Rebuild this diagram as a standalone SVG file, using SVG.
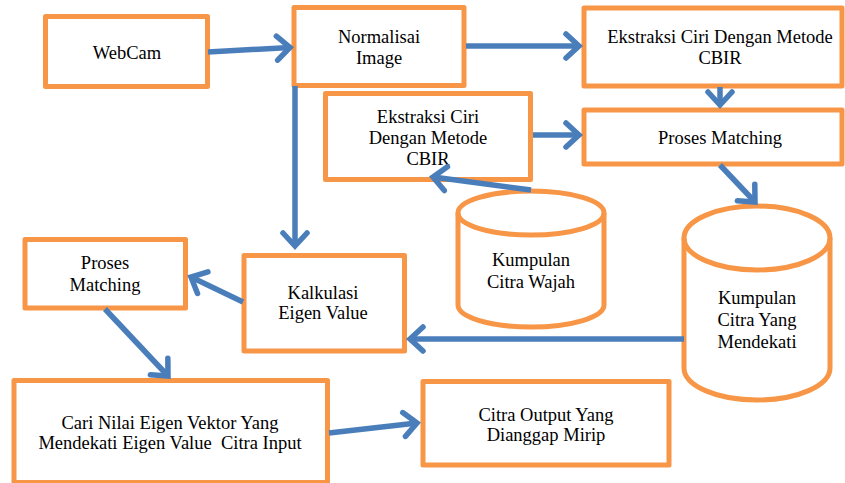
<svg xmlns="http://www.w3.org/2000/svg" width="845" height="483" viewBox="0 0 845 483">
<defs>
<marker id="ah" markerUnits="userSpaceOnUse" markerWidth="40" markerHeight="40" viewBox="-20 -20 40 40" refX="0" refY="0" orient="auto">
<path d="M-13,-12 L0,0 L-13,12" fill="none" stroke="#4a7ebb" stroke-width="5.5" stroke-linecap="round" stroke-linejoin="miter"/>
</marker>
</defs>
<style>
.box{fill:#ffffff;stroke:#f79646;stroke-width:5;stroke-linejoin:round}
.con{fill:none;stroke:#4a7ebb;stroke-width:5.5;marker-end:url(#ah)}
</style>
<rect width="845" height="483" fill="#ffffff"/>
<g font-family="Liberation Serif, Times New Roman, serif" font-size="18.5" fill="#000000" text-anchor="middle">
<g id="webcam">
<rect class="box" x="45.5" y="16.5" width="162" height="70"/>
<text x="127" y="59">WebCam</text>
</g>
<g id="normalisai">
<rect class="box" x="294" y="7.5" width="170" height="78"/>
<text x="379" y="43">Normalisai</text>
<text x="379" y="64">Image</text>
</g>
<g id="ekstraksi1">
<rect class="box" x="584" y="8" width="258" height="78"/>
<text x="720" y="43">Ekstraksi Ciri Dengan Metode</text>
<text x="720" y="64">CBIR</text>
</g>
<g id="matching1">
<rect class="box" x="584" y="110" width="258" height="54"/>
<text x="720" y="144">Proses Matching</text>
</g>
<g id="ekstraksi2">
<rect class="box" x="325.5" y="93.5" width="205" height="86"/>
<text x="428" y="123">Ekstraksi Ciri</text>
<text x="428" y="144">Dengan Metode</text>
<text x="428" y="165">CBIR</text>
</g>
<g id="citrawajah">
<path class="box" d="M458,213 A73,22 0 0 1 604,213 L604,305 A73,22 0 0 1 458,305 Z"/>
<path fill="none" stroke="#f79646" stroke-width="5" d="M458,213 A73,22 0 0 0 604,213"/>
<text x="531" y="266">Kumpulan</text>
<text x="531" y="288">Citra Wajah</text>
</g>
<g id="citramendekati">
<path class="box" d="M684,238 A73,32 0 0 1 830,238 L830,368 A73,32 0 0 1 684,368 Z"/>
<path fill="none" stroke="#f79646" stroke-width="5" d="M684,238 A73,32 0 0 0 830,238"/>
<text x="757" y="304">Kumpulan</text>
<text x="757" y="326">Citra Yang</text>
<text x="757" y="348">Mendekati</text>
</g>
<g id="kalkulasi">
<rect class="box" x="244" y="255.5" width="160.5" height="95.5"/>
<text x="323" y="299">Kalkulasi</text>
<text x="323" y="319">Eigen Value</text>
</g>
<g id="matching2">
<rect class="box" x="25" y="239.5" width="160.5" height="68.5"/>
<text x="105" y="269">Proses</text>
<text x="105" y="291">Matching</text>
</g>
<g id="cari">
<rect class="box" x="14" y="380.5" width="313.5" height="102"/>
<text x="170" y="429">Cari Nilai Eigen Vektor Yang</text>
<text x="170" y="449" xml:space="preserve">Mendekati Eigen Value  Citra Input</text>
</g>
<g id="output">
<rect class="box" x="423" y="381.5" width="246" height="83.5"/>
<text x="546" y="421">Citra Output Yang</text>
<text x="546" y="441">Dianggap Mirip</text>
</g>
</g>
<g id="connectors">
<line class="con" x1="208" y1="52" x2="290" y2="47.5"/>
<line class="con" x1="466" y1="46" x2="579" y2="46"/>
<line class="con" x1="720" y1="87" x2="720" y2="105"/>
<line class="con" x1="533" y1="135" x2="579" y2="135"/>
<line class="con" x1="531" y1="190" x2="433" y2="177"/>
<line class="con" x1="720" y1="165" x2="755" y2="202"/>
<line class="con" x1="295" y1="86" x2="295" y2="246"/>
<line class="con" x1="684" y1="339" x2="410" y2="339"/>
<line class="con" x1="243" y1="302" x2="191" y2="277"/>
<line class="con" x1="105" y1="309" x2="168" y2="376"/>
<line class="con" x1="329" y1="433" x2="417" y2="423"/>
</g>
</svg>
